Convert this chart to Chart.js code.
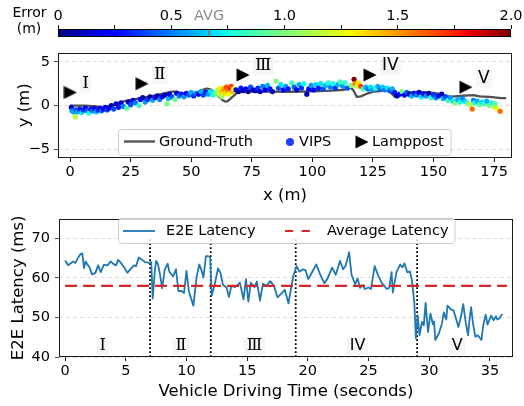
<!DOCTYPE html>
<html><head><meta charset="utf-8">
<script src="https://cdn.jsdelivr.net/npm/chart.js@4.4.0/dist/chart.umd.min.js"></script>
<style>
html,body{margin:0;padding:0;background:#fff;}
#wrap{position:relative;width:524px;height:406px;overflow:hidden;background:#fff;}
canvas{position:absolute;left:0;}
</style></head><body>
<div id="wrap">
<canvas id="cb" width="524" height="45" style="top:0px"></canvas>
<canvas id="top" width="524" height="167" style="top:40px"></canvas>
<canvas id="bot" width="524" height="201" style="top:205px"></canvas>
</div>
<script>
// ---------------- DATA ----------------
// colour bar
const errMin = 0, errMax = 2;
const errorTicks = [0, 0.25, 0.5, 0.75, 1.0, 1.25, 1.5, 1.75, 2.0];
const errorTickLabels = ['0', '', '0.5', '', '1.0', '', '1.5', '', '2.0'];
const avgError = 0.667;

// top chart: trajectory
const gtX = [0,6,11,13,15,18,23,28,33,38,42,44,46,48.5,51,53.7,56.4,58,59.8,61.5,62.6,64,65,66,67.5,68.8,71,80,90,100,108,113,115.6,116.8,118.3,120,122,125.2,128,130.7,132.5,134,136,140,144.4,150,153,156.8,161,166.5,169,173,178,180];
const gtY = [0,0,-0.1,-0.25,-0.2,0.1,0.55,0.8,1.05,1.35,1.6,1.6,1.4,1.2,1.3,1.7,1.95,1.85,1.5,1.0,0.7,0.45,0.5,0.74,1.1,1.45,1.6,1.6,1.58,1.62,1.7,1.8,2.1,1.8,1.0,1.05,1.3,1.6,1.65,1.8,1.45,1.0,1.4,1.5,1.56,1.45,1.3,1.0,1.1,1.2,1.05,1.0,0.85,0.85];

const vipsX = [
 0.5,0.8,1.5,2.2,2.5,3.2,4.0,4.8,5.5,6.3,7.0,7.8,8.5,9.3,10.0,10.8,11.5,12.3,13.0,13.8,14.5,15.3,
 16,17,18,19,20,21,22,23.4,24,25,26,27,28.4,29,30,31,32,33,34,35,36,37,38,39,40,40.6,41,42,43.3,44,45,
 46,47,48,49,50,51,52,53,54,55,56,57,58,59,
 60,61,61.5,62,62.5,62.5,63,63.5,64,64.5,65,65.5,66,66.5,67,67.5,
 68.5,69.5,70.5,71.5,72.5,73.5,74.5,75.5,76.5,77.5,78.5,79.5,80.5,81.5,82.5,83.5,85,86,87,88,89,90,91.5,92.5,93.5,94.5,95.5,96.5,97.7,98.5,99.5,100.5,101.5,102.5,103.5,104.5,105.5,106.5,107.5,108.5,109.5,110.5,111.5,112.5,113.5,114.5,
 116,117.2,117.6,118.5,119,120,121,122,
 123,124,125,126,127,128,129,130,131,132,133,134,135,136,137,138,139,140,141,142,143,144,145,146,147,148,149,150,
 151,152,153.4,154,155,156,157,158,159,160,161,162,163,164,165,166,166.5,167,168,169,170,171,172,173,174,175,175.5,176,177.5];
const vipsY = [
 -0.2,-0.6,-0.75,-1.3,-0.5,-0.7,-0.4,-0.8,-0.5,-0.3,-0.6,-0.85,-0.4,-0.6,-0.35,-0.7,-0.5,-0.3,-0.6,-0.4,-0.2,-0.5,
 -0.3,0,-0.4,0.2,-0.2,0.3,-0.1,-0.3,0.4,0.1,0.6,0.3,0,0.7,0.9,0.4,0.7,1.0,0.6,0.9,1.1,0.7,1.0,1.2,0.2,0.8,1.3,1.0,0.7,1.4,1.1,
 1.3,1.0,1.4,1.2,1.5,1.1,1.4,1.3,1.6,1.2,1.5,1.3,1.6,1.2,
 1.5,1.8,1.3,2.0,1.6,1.0,1.2,1.9,1.4,2.1,1.7,1.3,2.0,2.2,1.6,1.9,
 1.8,1.6,2.0,1.7,1.9,1.6,2.1,1.8,1.7,2.0,1.6,2.2,1.8,2.3,1.9,1.6,2.8,2.0,2.4,1.8,2.2,1.9,2.6,2.1,1.8,2.4,2.0,2.5,1.3,1.9,2.3,1.8,2.4,2.0,2.5,1.9,2.3,2.6,2.1,2.5,2.0,2.4,2.7,2.2,2.6,2.0,
 2.3,3.0,2.5,2.2,2.6,2.2,1.9,2.1,
 1.9,2.1,1.8,2.0,2.2,1.9,2.1,1.8,2.0,1.7,1.9,1.5,1.1,1.3,1.6,1.2,1.5,1.3,1.1,1.4,1.2,1.5,1.0,1.3,1.1,1.4,0.9,1.2,
 0.9,1.1,1.3,0.8,1.0,0.6,0.9,0.5,0.3,0.7,0.4,0.8,0.5,0.3,0.1,-0.4,0.6,0.3,0.5,0.1,0.4,0.2,0.5,0.0,0.3,-0.1,0.2,-0.3,-0.65];
const vipsErr = [
 0.15,0.5,0.6,1.15,0.4,0.55,0.3,0.7,0.35,0.2,0.45,0.75,0.3,0.5,0.2,0.6,0.35,0.15,0.45,0.25,0.15,0.4,
 0.2,0.1,0.4,0.1,0.3,0.15,0.5,0.9,0.1,0.4,0.2,0.5,0.85,0.2,0.1,0.55,0.35,0.1,0.6,0.3,0.1,0.5,0.25,0.1,1.0,0.6,0.2,0.4,0.95,0.15,0.5,
 0.3,0.55,0.2,0.45,0.6,0.35,0.5,0.25,0.6,0.4,0.3,0.55,0.7,0.75,
 0.95,1.1,1.2,1.3,1.4,1.05,1.15,1.5,1.35,1.65,1.55,1.25,1.75,1.7,1.45,1.2,
 0.2,0.05,0.3,0.1,0.25,0.05,0.4,0.15,0.1,0.35,0.1,0.5,0.2,0.6,0.3,0.1,1.0,0.4,0.7,0.2,0.55,0.3,0.85,0.45,0.15,0.6,0.35,0.75,0.1,0.25,0.55,0.2,0.65,0.3,0.7,0.4,0.6,0.8,0.5,0.75,0.35,0.6,0.85,0.55,0.8,0.4,
 1.0,2.0,1.55,1.2,1.35,1.7,0.9,0.6,
 0.45,0.7,0.55,0.8,0.6,0.45,0.65,0.5,0.7,0.4,0.6,0.3,0.1,0.2,1.0,0.2,0.45,0.1,0.6,0.3,0.5,0.15,0.7,0.25,0.55,0.1,0.8,0.35,
 0.5,0.3,0.1,0.6,0.4,0.85,0.55,0.7,1.0,0.6,0.75,0.5,0.65,0.9,1.15,1.6,0.5,0.8,0.6,0.95,0.7,0.85,0.6,1.0,0.75,1.1,0.9,1.25,1.6];

const lampX = [0.1, 29.7, 71.4, 123.8, 163.4];
const lampY = [1.5, 2.5, 3.5, 3.5, 2.1];
const lampNames = ['Ⅰ', 'Ⅱ', 'Ⅲ', 'IV', 'V'];
const topXTicks = [0, 25, 50, 75, 100, 125, 150, 175];
const topYTicks = [-5, 0, 5];

// bottom chart: latency
const time = [0,0.25,0.5,0.66,0.85,1.07,1.29,1.42,1.56,1.7,1.82,2.03,2.22,2.5,2.72,2.94,3.2,3.5,3.76,4.0,4.2,4.37,4.6,4.86,5.13,5.4,5.68,5.85,6.07,6.3,6.6,6.95,7.1,7.22,7.4,7.5,7.66,7.8,8.0,8.2,8.45,8.6,8.9,9.14,9.33,9.6,9.8,10.0,10.2,10.57,10.85,11.06,11.25,11.4,11.6,11.8,11.95,12.08,12.3,12.6,12.8,13.0,13.3,13.5,13.7,14.0,14.2,14.4,14.7,14.9,15.1,15.3,15.6,15.8,16.06,16.3,16.6,16.9,17.2,17.5,17.8,18.1,18.4,18.8,19.08,19.3,19.6,19.8,20.04,20.3,20.7,21.0,21.36,21.6,22.0,22.3,22.65,22.9,23.1,23.4,23.6,23.9,24.1,24.3,24.5,24.7,25.0,25.2,25.5,25.8,26.1,26.3,26.5,26.7,26.9,27.0,27.3,27.6,27.8,27.95,28.2,28.4,28.56,28.77,28.9,29.05,29.2,29.4,29.55,29.7,29.9,30.1,30.3,30.4,30.5,30.8,31.05,31.2,31.4,31.5,31.8,32.0,32.2,32.4,32.6,32.8,33.0,33.2,33.3,33.45,33.6,33.8,34.0,34.3,34.45,34.65,34.8,35.1,35.3,35.5,35.6,35.8,36.0];
const latency = [64.4,63.2,63.8,64.2,63.8,65.1,66.1,66.2,62.5,64.2,63.5,62.6,60.9,61.3,63.2,61.5,63.4,63.2,64.2,63.5,63.2,64.6,63.8,62.7,61.3,62.3,63.2,63.0,65.2,64.7,64.0,63.8,64.0,54.8,62.0,64.3,63.4,61.3,57.4,62.0,63.6,61.5,60.4,62.2,56.7,56.7,56.2,61.8,56.6,53.0,60.5,63.4,61.8,60.1,65.5,65.5,65.3,55.5,58.0,62.4,61.3,58.3,57.6,55.2,58.0,57.7,58.2,58.8,54.6,59.7,54.0,58.8,57.7,59.1,54.3,58.5,58.0,59.2,58.0,55.1,56.0,57.0,53.6,60.5,63.0,61.6,62.2,62.0,59.7,61.2,63.4,61.0,58.7,59.7,62.6,60.8,64.3,62.2,63.0,66.5,60.8,58.4,59.9,57.5,58.2,57.2,57.6,57.2,63.0,60.6,58.7,58.0,57.2,57.5,61.5,56.3,61.5,63.4,62.7,63.7,61.4,61.7,59.7,53.8,44.7,50.5,45.5,48.9,48.0,53.7,46.3,51.0,48.3,49.0,44.3,46.0,48.5,51.3,49.5,53.0,52.0,51.8,49.8,47.6,50.0,53.4,48.8,45.5,49.0,52.6,48.6,45.1,45.5,44.3,48.0,50.7,48.2,50.5,49.3,50.3,49.5,49.8,50.9];
const avgLatency = 58;
const avgSpan = [0, 36.4];
const segmentBounds = [7, 12, 19, 29];
const segmentTop = 70;
const segmentLabelX = [3.1, 9.55, 15.6, 24.1, 32.3];
const segmentLabelY = 42.7;
const segmentNames = ['Ⅰ', 'Ⅱ', 'Ⅲ', 'IV', 'V'];
const botXTicks = [0, 5, 10, 15, 20, 25, 30, 35];
const botYTicks = [40, 50, 60, 70];

// ---------------- HELPERS ----------------
const FONT = "'DejaVu Sans', sans-serif";
const NUMFONT = "'DejaVu Serif', 'Liberation Serif', serif";
Chart.defaults.font.family = FONT;
Chart.defaults.color = '#000';
Chart.defaults.animation = false;
Chart.defaults.plugins.legend.display = false;
Chart.defaults.plugins.tooltip.enabled = false;

function labelFont(t, size){
  return t.charCodeAt(0) >= 0x2160 ? `${size}px ${NUMFONT}` : `${size}px ${FONT}`;
}
function interp(v, pts){
  for (let i = 1; i < pts.length; i++){
    if (v <= pts[i][0]){
      const [x0,y0] = pts[i-1], [x1,y1] = pts[i];
      return y0 + (y1 - y0) * (v - x0) / (x1 - x0);
    }
  }
  return pts[pts.length-1][1];
}
function jet(v){
  v = Math.max(0, Math.min(1, v));
  const r = interp(v, [[0,0],[0.35,0],[0.66,1],[0.89,1],[1,0.5]]);
  const g = interp(v, [[0,0],[0.125,0],[0.375,1],[0.64,1],[0.91,0],[1,0]]);
  const b = interp(v, [[0,0.5],[0.11,1],[0.34,1],[0.65,0],[1,0]]);
  return `rgb(${Math.round(r*255)},${Math.round(g*255)},${Math.round(b*255)})`;
}
function setTicks(arr){ return function(scale){ scale.ticks = arr.map(v => ({value: v})); }; }

function roundBox(c, x, y, w, h, r){
  c.beginPath();
  c.moveTo(x + r, y); c.lineTo(x + w - r, y); c.quadraticCurveTo(x + w, y, x + w, y + r);
  c.lineTo(x + w, y + h - r); c.quadraticCurveTo(x + w, y + h, x + w - r, y + h);
  c.lineTo(x + r, y + h); c.quadraticCurveTo(x, y + h, x, y + h - r);
  c.lineTo(x, y + r); c.quadraticCurveTo(x, y, x + r, y); c.closePath();
}

const framePlugin = {id: 'frame', afterDraw(chart){
  const a = chart.chartArea, c = chart.ctx;
  c.save(); c.strokeStyle = '#1a1a1a'; c.lineWidth = 1;
  c.strokeRect(Math.round(a.left) + 0.5, Math.round(a.top) + 0.5, Math.round(a.right - a.left) - 1, Math.round(a.bottom - a.top) - 1);
  c.restore();
}};

function tri(){
  const cv = document.createElement('canvas'); cv.width = 14; cv.height = 14;
  const c = cv.getContext('2d'); c.fillStyle = '#000';
  c.beginPath(); c.moveTo(0.5, 0.5); c.lineTo(13.5, 7); c.lineTo(0.5, 13.5); c.closePath(); c.fill();
  return cv;
}
const triImg = tri();

const tickFont = {size: 14.5, family: FONT};
const titleFont = {size: 16.5, family: FONT};

// ---------------- COLOUR BAR ----------------
new Chart(document.getElementById('cb'), {
  type: 'scatter',
  data: {datasets: []},
  options: {
    responsive: false,
    layout: {padding: {left: 58, right: 13, top: 0, bottom: 8}},
    scales: {
      x: {type: 'linear', position: 'top', min: errMin, max: errMax,
        afterBuildTicks(scale){ scale.ticks = errorTicks.concat([avgError]).map(v => ({value: v})); },
        afterFit(scale){ scale.height = 29; },
        border: {display: false},
        grid: {drawOnChartArea: false, tickLength: 4, tickWidth: 1,
          tickColor: ctx => (ctx.tick && ctx.tick.value === avgError) ? 'rgba(0,0,0,0)' : '#1a1a1a'},
        ticks: {autoSkip: false, maxRotation: 0, padding: 0, font: tickFont,
          color: ctx => (ctx.tick && ctx.tick.value === avgError) ? '#8a8a8a' : '#000',
          callback: v => v === avgError ? 'AVG' : errorTickLabels[errorTicks.indexOf(v)]}
      },
      y: {display: false, min: 0, max: 1}
    }
  },
  plugins: [{id: 'cbar', afterDraw(chart){
    const a = chart.chartArea, xs = chart.scales.x, c = chart.ctx;
    const x0 = xs.getPixelForValue(errMin), x1 = xs.getPixelForValue(errMax);
    const g = c.createLinearGradient(x0, 0, x1, 0);
    for (let i = 0; i <= 100; i++) g.addColorStop(i / 100, jet(i / 100));
    c.save();
    c.fillStyle = g; c.fillRect(x0, a.top, x1 - x0, a.bottom - a.top);
    const xa = xs.getPixelForValue(avgError);
    c.strokeStyle = '#808080'; c.lineWidth = 2;
    c.beginPath(); c.moveTo(xa, a.top); c.lineTo(xa, a.bottom); c.stroke();
    c.strokeStyle = '#000'; c.lineWidth = 1;
    c.strokeRect(Math.round(x0) + 0.5, Math.round(a.top) + 0.5, Math.round(x1 - x0) - 1, Math.round(a.bottom - a.top) - 1);
    c.fillStyle = '#000'; c.font = `14px ${FONT}`; c.textAlign = 'center'; c.textBaseline = 'middle';
    c.fillText('Error', 29.5, 13.5);
    c.fillText('(m)', 29, 29);
    c.restore();
  }}]
});

// ---------------- TOP: TRAJECTORY ----------------
new Chart(document.getElementById('top'), {
  type: 'scatter',
  data: {datasets: [
    {label: 'Ground-Truth', data: gtX.map((x, i) => ({x, y: gtY[i]})), showLine: true, pointRadius: 0,
     borderColor: 'rgba(60,60,60,0.9)', borderWidth: 2.3, order: 2, borderJoinStyle: 'round'},
    {label: 'VIPS', data: vipsX.map((x, i) => ({x, y: vipsY[i]})), pointRadius: 2.6, pointBorderWidth: 0,
     pointBackgroundColor: vipsErr.map(e => jet((e - errMin) / (errMax - errMin))), order: 1},
    {label: 'Lamppost', data: lampX.map((x, i) => ({x, y: lampY[i]})), pointStyle: triImg, pointRadius: 7, order: 0}
  ]},
  options: {
    responsive: false,
    layout: {padding: {left: 0, right: 12, top: 5, bottom: 0}},
    scales: {
      x: {type: 'linear', min: -5, max: 182.4, afterBuildTicks: setTicks(topXTicks),
        afterFit(scale){ scale.height = 49; },
        border: {display: false},
        grid: {drawOnChartArea: false, tickLength: 4, tickColor: '#1a1a1a'},
        ticks: {autoSkip: false, maxRotation: 0, padding: 2, font: tickFont},
        title: {display: true, text: 'x (m)', font: titleFont, padding: {top: 1, bottom: 1}}
      },
      y: {type: 'linear', min: -6, max: 6.05, afterBuildTicks: setTicks(topYTicks),
        afterFit(scale){ scale.width = 58; },
        border: {display: false, dash: [4, 3]},
        grid: {color: '#d4d4d4', lineWidth: 0.8, tickLength: 4, tickColor: '#1a1a1a', tickBorderDash: [0, 0]},
        ticks: {padding: 4, font: tickFont, callback: v => v < 0 ? '\u2212' + Math.abs(v) : String(v)},
        title: {display: true, text: 'y (m)', font: titleFont, padding: {top: 15, bottom: 15}}
      }
    }
  },
  plugins: [framePlugin, {id: 'lampLabels', afterDatasetsDraw(chart){
    const c = chart.ctx, xs = chart.scales.x, ys = chart.scales.y;
    c.save(); c.textBaseline = 'middle'; c.textAlign = 'left';
    lampNames.forEach((t, i) => {
      c.font = labelFont(t, 17);
      const px = xs.getPixelForValue(lampX[i]) + 12, py = ys.getPixelForValue(lampY[i]) - 9;
      const w = c.measureText(t).width;
      c.fillStyle = 'rgba(238,238,238,0.55)'; c.fillRect(px - 2, py - 9, w + 4, 18);
      c.fillStyle = '#000'; c.fillText(t, px, py);
    });
    c.restore();
  }}, {id: 'topLegend', afterDraw(chart){
    const c = chart.ctx;
    c.save();
    roundBox(c, 118.5, 89.5, 332.5, 26, 3);
    c.fillStyle = 'rgba(255,255,255,0.8)'; c.fill();
    c.strokeStyle = '#cccccc'; c.lineWidth = 1; c.stroke();
    c.strokeStyle = 'rgba(60,60,60,0.9)'; c.lineWidth = 2.3;
    c.beginPath(); c.moveTo(124, 101.5); c.lineTo(155, 101.5); c.stroke();
    c.fillStyle = '#1f3cff'; c.beginPath(); c.arc(290, 102, 4, 0, Math.PI * 2); c.fill();
    c.drawImage(triImg, 355, 95);
    c.fillStyle = '#000'; c.font = `14.5px ${FONT}`; c.textBaseline = 'middle'; c.textAlign = 'left';
    c.fillText('Ground-Truth', 159, 102);
    c.fillText('VIPS', 299, 102);
    c.fillText('Lamppost', 372, 102);
    c.restore();
  }}]
});

// ---------------- BOTTOM: LATENCY ----------------
const vlines = segmentBounds.map(b => ({label: 'seg', data: [{x: b, y: 40}, {x: b, y: segmentTop}], showLine: true,
  pointRadius: 0, borderColor: '#000', borderWidth: 1.8, borderDash: [1.8, 2.2], borderCapStyle: 'butt', order: 3}));
new Chart(document.getElementById('bot'), {
  type: 'scatter',
  data: {datasets: [
    {label: 'E2E Latency', data: time.map((x, i) => ({x, y: latency[i]})), showLine: true, pointRadius: 0,
     borderColor: '#1f77b4', borderWidth: 1.8, order: 2, borderJoinStyle: 'round'},
    {label: 'Average Latency', data: avgSpan.map(x => ({x, y: avgLatency})), showLine: true, pointRadius: 0,
     borderColor: '#d62728', borderWidth: 2.2, borderDash: [12, 6], order: 1},
    ...vlines
  ]},
  options: {
    responsive: false,
    layout: {padding: {left: 0, right: 11, top: 12, bottom: 0}},
    scales: {
      x: {type: 'linear', min: -0.5, max: 36.9, afterBuildTicks: setTicks(botXTicks),
        afterFit(scale){ scale.height = 49; },
        border: {display: false},
        grid: {drawOnChartArea: false, tickLength: 4, tickColor: '#1a1a1a'},
        ticks: {autoSkip: false, maxRotation: 0, padding: 2, font: tickFont},
        title: {display: true, text: 'Vehicle Driving Time (seconds)', font: titleFont, padding: {top: 4, bottom: 4}}
      },
      y: {type: 'linear', min: 40, max: 75, afterBuildTicks: setTicks(botYTicks),
        afterFit(scale){ scale.width = 59; },
        border: {display: false, dash: [4, 3]},
        grid: {color: '#d4d4d4', lineWidth: 0.8, tickLength: 4, tickColor: '#1a1a1a', tickBorderDash: [0, 0]},
        ticks: {padding: 5, font: tickFont},
        title: {display: true, text: 'E2E Latency (ms)', font: titleFont, padding: {top: 8.5, bottom: 8.5}}
      }
    }
  },
  plugins: [framePlugin, {id: 'segLabels', afterDatasetsDraw(chart){
    const c = chart.ctx, xs = chart.scales.x, ys = chart.scales.y;
    c.save(); c.textBaseline = 'middle'; c.textAlign = 'center';
    segmentNames.forEach((t, i) => {
      c.font = labelFont(t, 16);
      const px = xs.getPixelForValue(segmentLabelX[i]), py = ys.getPixelForValue(segmentLabelY);
      const w = c.measureText(t).width;
      c.fillStyle = 'rgba(238,238,238,0.55)'; c.fillRect(px - w / 2 - 3, py - 9, w + 6, 18);
      c.fillStyle = '#000'; c.fillText(t, px, py);
    });
    c.restore();
  }}, {id: 'botLegend', afterDraw(chart){
    const c = chart.ctx;
    c.save();
    roundBox(c, 118.5, 13.5, 336.5, 25, 3);
    c.fillStyle = 'rgba(255,255,255,0.8)'; c.fill();
    c.strokeStyle = '#cccccc'; c.lineWidth = 1; c.stroke();
    c.strokeStyle = '#1f77b4'; c.lineWidth = 1.8;
    c.beginPath(); c.moveTo(123, 26); c.lineTo(155, 26); c.stroke();
    c.strokeStyle = '#d62728'; c.lineWidth = 2.2; c.setLineDash([8.3, 8.3]);
    c.beginPath(); c.moveTo(285, 26); c.lineTo(310, 26); c.stroke();
    c.setLineDash([]);
    c.fillStyle = '#000'; c.font = `14.5px ${FONT}`; c.textBaseline = 'middle'; c.textAlign = 'left';
    c.fillText('E2E Latency', 166, 26);
    c.fillText('Average Latency', 327, 26);
    c.restore();
  }}]
});
</script>
</body></html>
